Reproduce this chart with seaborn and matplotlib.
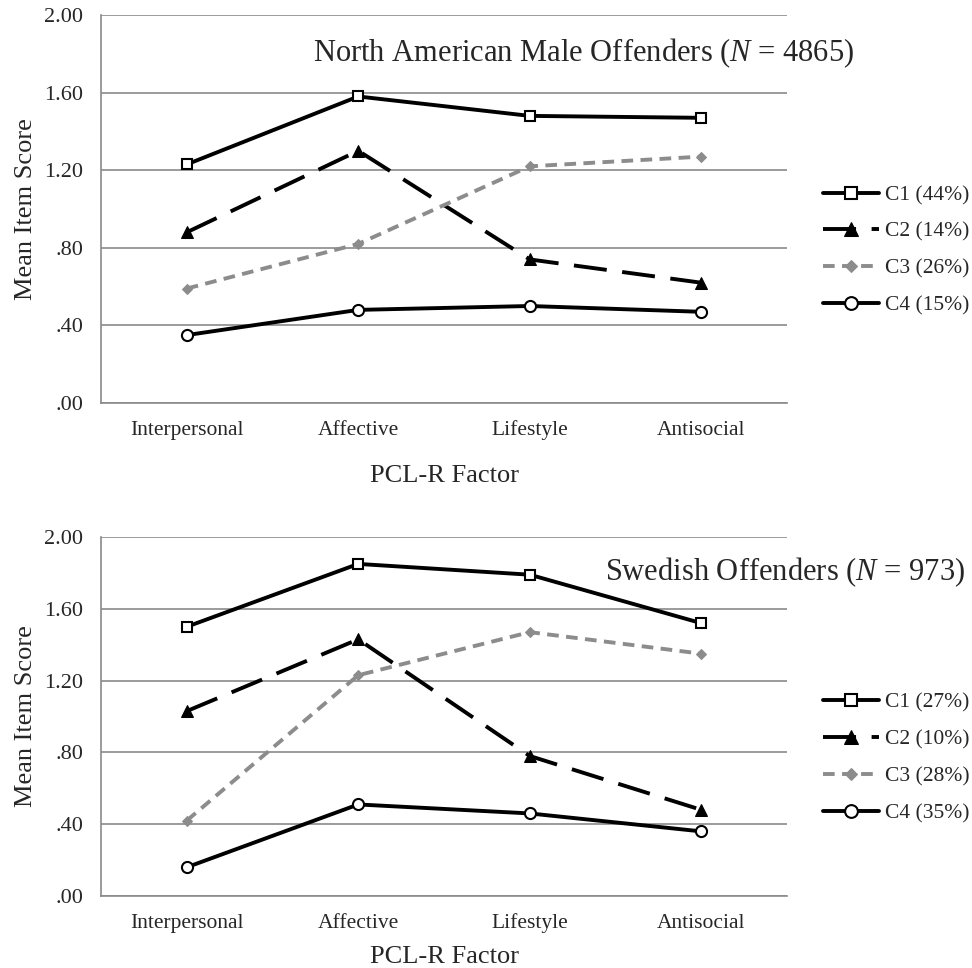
import matplotlib
matplotlib.use("Agg")
import matplotlib.pyplot as plt
import seaborn as sns
import pandas as pd
from matplotlib.ticker import FixedLocator

sns.set_style("white")
plt.rcParams['font.family'] = ['Liberation Serif', 'DejaVu Serif']
plt.rcParams['mathtext.fontset'] = 'custom'
plt.rcParams['mathtext.rm'] = 'Liberation Serif'
plt.rcParams['mathtext.it'] = 'Liberation Serif:italic'

factors = ["Interpersonal", "Affective", "Lifestyle", "Antisocial"]
yticks = [0.0, 0.4, 0.8, 1.2, 1.6, 2.0]
ytick_labels = [".00", ".40", ".80", "1.20", "1.60", "2.00"]

# North American Male Offenders
na_c1 = [1.23, 1.58, 1.48, 1.47]
na_c2 = [0.88, 1.30, 0.74, 0.62]
na_c3 = [0.59, 0.82, 1.22, 1.27]
na_c4 = [0.35, 0.48, 0.50, 0.47]
na_labels = ["C1 (44%)", "C2 (14%)", "C3 (26%)", "C4 (15%)"]

# Swedish Offenders
sw_c1 = [1.50, 1.85, 1.79, 1.52]
sw_c2 = [1.03, 1.43, 0.78, 0.48]
sw_c3 = [0.42, 1.23, 1.47, 1.35]
sw_c4 = [0.16, 0.51, 0.46, 0.36]
sw_labels = ["C1 (27%)", "C2 (10%)", "C3 (28%)", "C4 (35%)"]

styles = [
    dict(color="black", marker="s", markerfacecolor="white", markeredgecolor="black",
         markersize=7.5, markeredgewidth=1.5, linestyle="-", linewidth=2.8),
    dict(color="black", marker="^", markerfacecolor="black", markeredgecolor="black",
         markersize=8.5, linewidth=2.8, dashes=(8.5, 4)),
    dict(color="#8c8c8c", marker="D", markerfacecolor="#8c8c8c", markeredgecolor="#8c8c8c",
         markersize=5.5, linewidth=2.8, dashes=(3, 1.9)),
    dict(color="black", marker="o", markerfacecolor="white", markeredgecolor="black",
         markersize=8, markeredgewidth=1.5, linestyle="-", linewidth=2.8),
]

fig = plt.figure(figsize=(9.72, 9.68), dpi=100)
ax1 = fig.add_axes([101/972, 1-403/968, 686/972, 388/968])
ax2 = fig.add_axes([101/972, 1-896/968, 686/972, 359/968])

panels = [
    (ax1, [na_c1, na_c2, na_c3, na_c4], na_labels,
     "North American Male Offenders ($\\mathit{N}$ = 4865)", 313, 53, 0.3935, -79/388),
    (ax2, [sw_c1, sw_c2, sw_c3, sw_c4], sw_labels,
     "Swedish Offenders ($\\mathit{N}$ = 973)", 605, 572, 0.3846, -67/359),
]

grid_col = "#8a8a8a"
for ax, series, labels, title, tx, ty, legy, xly in panels:
    for vals, lab, st in zip(series, labels, styles):
        df = pd.DataFrame({"factor": factors, "score": vals})
        sns.lineplot(data=df, x="factor", y="score", ax=ax, label=lab, sort=False, **st)
    ax.set_xlim(-0.5, 3.5)
    ax.set_ylim(0, 2.0)
    ax.set_yticks(yticks)
    ax.set_yticklabels(ytick_labels)
    ax.yaxis.grid(True, color=grid_col, linewidth=1.2)
    ax.set_axisbelow(True)
    ax.set_xticks(range(4))
    ax.set_xticklabels(factors)
    for t in ax.get_xticklabels():
        t.set_va("baseline")
    ax.xaxis.set_minor_locator(FixedLocator([-0.5, 0.5, 1.5, 2.5, 3.5]))
    ax.tick_params(axis="x", which="major", length=0, labelsize=15.5, pad=23)
    ax.tick_params(axis="x", which="minor", length=5, color=grid_col, width=1.2, direction="out")
    ax.tick_params(axis="y", which="major", length=5, color=grid_col, width=1.2, labelsize=16, pad=8)
    for s in ["top", "right"]:
        ax.spines[s].set_visible(False)
    for s in ["left", "bottom"]:
        ax.spines[s].set_color(grid_col)
        ax.spines[s].set_linewidth(1.2)
    ax.set_ylabel("Mean Item Score", fontsize=19, va="center")
    ax.yaxis.set_label_coords(-0.1093, 0.5)
    ax.set_xlabel("PCL-R Factor", fontsize=19, va="baseline")
    ax.xaxis.set_label_coords(0.5, xly)
    fig.text(tx/972, 1-ty/968, title, fontsize=22, ha="left", va="center")
    ax.legend(loc="center left", bbox_to_anchor=(1.052, legy), frameon=False,
              fontsize=15.5, handlelength=2.6, handletextpad=0.3, labelspacing=0.78,
              borderpad=0, borderaxespad=0, markerscale=1.15)

fig.savefig("out.png", dpi=100, facecolor="white")
